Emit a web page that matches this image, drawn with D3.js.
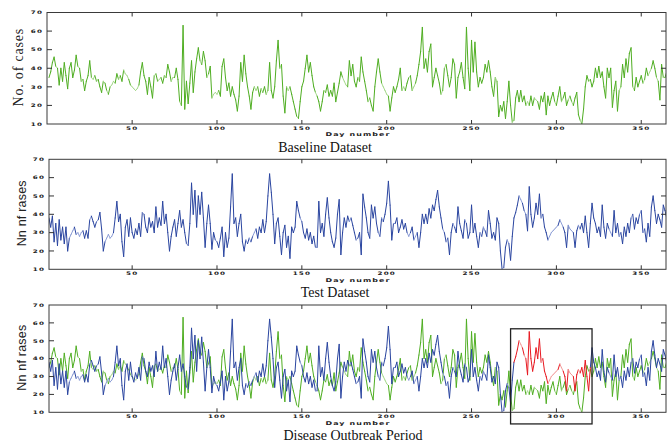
<!DOCTYPE html>
<html><head><meta charset="utf-8">
<script src="https://cdn.jsdelivr.net/npm/d3@7/dist/d3.min.js"></script>
<style>body{margin:0;background:#fff}svg{display:block}</style>
</head><body>
<script>
// ---- data ----
const days = d3.range(1, 366);
const baselineCases = [
35,38,43,46,41,40,31,40,33,43, 36,29,40,43,35,39,47,41,40,33,
34,28,33,36,44,35,34,36,33,34, 30,27,33,32,28,26,30,31,33,32,
37,34,36,33,39,37,36,34,31,30, 29,28,29,31,38,43,36,33,26,35,
30,24,36,37,33,34,35,32,36,35, 42,38,33,35,35,40,34,22,20,63,
18,33,21,32,44,27,38,45,51,44, 42,49,44,35,37,41,24,26,27,26,
28,25,41,45,35,28,32,25,30,26, 23,17,25,43,33,47,37,30,25,18,
27,30,28,30,25,29,27,30,26,28, 43,28,24,30,44,55,40,42,25,16,
30,28,30,26,22,18,14,13,22,30, 33,40,47,38,43,36,30,27,25,22,
17,22,28,27,31,25,28,25,32,22, 27,32,38,35,33,31,30,44,36,42,
33,30,35,33,46,38,33,28,22,24, 20,17,30,38,45,38,32,30,28,26,
25,17,24,30,27,30,34,40,28,30, 28,32,35,36,28,30,32,36,42,49,
62,40,45,38,49,53,30,35,40,36, 32,26,28,40,42,36,30,35,45,42,
24,35,38,43,35,29,62,40,28,55, 38,54,38,30,35,32,35,42,38,44,
38,30,25,35,33,14,20,17,22,13, 22,33,20,11,12,24,28,22,28,22,
25,20,22,20,25,20,24,23,22,18, 25,22,27,15,25,20,24,27,22,20,
25,30,22,24,27,20,23,25,22,20, 24,27,15,12,10,18,30,36,33,34,
30,33,40,35,41,35,38,30,24,40, 35,40,19,28,33,17,28,30,42,35,
45,38,48,51,30,28,35,30,33,36, 32,34,40,36,38,40,44,40,35,33,
23,42,35,35,38];
const testCases = [
38,33,39,25,35,23,37,26,33,24, 33,20,27,29,31,33,29,30,28,30,
31,27,31,27,37,39,36,33,36,37, 41,32,20,25,27,29,27,28,30,38,
47,36,40,25,17,33,37,28,38,30, 27,32,29,35,28,41,40,33,30,38,
33,36,30,44,33,38,34,47,35,40, 30,20,28,33,37,28,35,42,33,37,
30,24,23,35,57,40,53,33,50,40, 52,38,22,35,45,35,21,30,26,25,
22,27,33,17,30,22,27,44,62,35, 38,28,35,40,25,20,26,24,27,25,
28,30,32,27,33,30,37,30,36,50, 62,52,40,24,35,38,28,18,30,34,
22,28,16,33,30,33,47,42,38,36, 30,27,32,26,30,24,28,22,22,47,
30,35,28,40,49,38,30,25,22,27, 40,48,18,30,38,33,39,36,38,34,
30,26,27,30,18,51,44,38,30,27, 45,38,44,35,30,28,38,36,40,46,
58,45,26,35,35,38,30,33,37,32, 35,30,28,30,33,26,28,30,22,30,
40,35,40,35,43,38,45,42,48,53, 44,38,32,30,25,27,18,30,35,33,
30,44,35,31,27,37,35,27,30,45, 30,35,28,22,30,28,33,31,28,42,
35,27,30,26,38,35,20,10,11,22, 26,24,15,28,38,41,45,50,48,46,
42,40,31,55,40,33,38,46,40,51, 38,40,33,30,26,28,30,31,32,33,
34,37,35,33,30,22,34,32,31,30, 22,31,34,32,35,30,39,30,22,35,
46,38,35,30,33,28,45,33,27,35, 32,30,28,42,30,35,28,30,24,33,
28,35,30,38,40,32,38,35,40,42, 30,32,25,35,28,44,50,42,35,40,
37,33,45,42,38];
const outbreakDays = [275, 320];      // test data highlighted in red
const outbreakBoxDays = [273, 321];   // annotation rectangle, x extent
const outbreakBoxCases = [3.5, 56.7]; // annotation rectangle, y extent
const yTicks = [10, 20, 30, 40, 50, 60, 70];
const xTicks = [50, 100, 150, 200, 250, 300, 350];
const panelTitles = ["Baseline Dataset", "Test Dataset", "Disease Outbreak Period"];
const yLabels = ["No. of cases", "Nn  nf rases", "Nn  nf rases"];
const xLabel = "Day number";

// ---- layout ----
const W = 667, H = 442;
const svg = d3.select("body").append("svg").attr("width", W).attr("height", H);
const x = d3.scaleLinear().domain([0, 365]).range([47.3, 666.7]);
const panels = [
  {left: 47, top: 12.5, bottom: 124, titleX: 325, titleY: 152, ylx: 19, ylSerif: true},
  {left: 49, top: 159.3, bottom: 269.3, titleX: 335, titleY: 297, ylx: 22, ylSerif: false},
  {left: 49, top: 305, bottom: 412.3, titleX: 353, titleY: 440, ylx: 22, ylSerif: false}
];
const right = 666;
const GREEN = ["#4fae22", "#a6d98c"], BLUE = ["#2a45a0", "#8c9dd6"], RED = ["#e81820", "#f39a9a"];

function drawSeries(g, y, vals, col, test) {
  for (let i = 0; i < days.length - 1; i++) {
    const d0 = days[i], d1 = days[i + 1];
    if (test && !test(d0, d1)) continue;
    const x0 = x(d0), x1 = x(d1), y0 = y(vals[i]), y1 = y(vals[i + 1]);
    const steep = Math.abs(y1 - y0) / (x1 - x0) > 2.2;
    g.append("line").attr("x1", x0).attr("y1", y0).attr("x2", x1).attr("y2", y1)
      .attr("stroke", steep ? col[0] : col[1]).attr("stroke-width", 1).attr("stroke-linecap", "round");
  }
}

// squat, wide tick-label style seen in the reference
function smallText(g, tx, ty, anchor, size, txt) {
  g.append("text").attr("transform", `translate(${tx},${ty}) scale(1.1,0.72)`)
    .attr("text-anchor", anchor).attr("font-family", "DejaVu Sans").attr("font-weight", "bold")
    .attr("font-size", size).attr("letter-spacing", 1).attr("fill", "#222").text(txt);
}

panels.forEach((p, idx) => {
  const y = d3.scaleLinear().domain([10, 70]).range([p.bottom, p.top]);
  const g = svg.append("g");
  const clipId = "clip" + idx;
  svg.append("clipPath").attr("id", clipId).append("rect")
    .attr("x", p.left).attr("y", p.top).attr("width", right - p.left).attr("height", p.bottom - p.top);
  const lg = g.append("g").attr("clip-path", `url(#${clipId})`);

  if (idx === 0) drawSeries(lg, y, baselineCases, GREEN);
  if (idx === 1) drawSeries(lg, y, testCases, BLUE);
  if (idx === 2) {
    drawSeries(lg, y, baselineCases, GREEN);
    drawSeries(lg, y, testCases, BLUE, (a, b) => b <= outbreakDays[0] || a >= outbreakDays[1]);
    drawSeries(lg, y, testCases, RED, (a, b) => a >= outbreakDays[0] && b <= outbreakDays[1]);
  }

  // frame
  g.append("rect").attr("x", p.left).attr("y", p.top).attr("width", right - p.left)
    .attr("height", p.bottom - p.top).attr("fill", "none").attr("stroke", "#3a3a3a").attr("stroke-width", 1);

  // inner ticks + labels
  xTicks.forEach(t => {
    g.append("line").attr("x1", x(t)).attr("x2", x(t)).attr("y1", p.bottom).attr("y2", p.bottom - 4).attr("stroke", "#333");
    g.append("line").attr("x1", x(t)).attr("x2", x(t)).attr("y1", p.top).attr("y2", p.top + 4).attr("stroke", "#333");
    smallText(g, x(t), p.bottom + 6, "middle", 6.5, t);
  });
  yTicks.forEach(t => {
    if (t > 10 && t < 70) {
      g.append("line").attr("x1", p.left).attr("x2", p.left + 5).attr("y1", y(t)).attr("y2", y(t)).attr("stroke", "#333");
      g.append("line").attr("x1", right).attr("x2", right - 5).attr("y1", y(t)).attr("y2", y(t)).attr("stroke", "#333");
    }
    smallText(g, p.left - 4, y(t) + 1.8, "end", 6.5, t);
  });

  // x label
  smallText(g, 358, p.bottom + 12.2, "middle", 7.2, xLabel);

  // y label
  const cy = (p.top + p.bottom) / 2 - 1;
  g.append("text").attr("transform", `translate(${p.ylx + 4},${cy}) rotate(-90)`).attr("text-anchor", "middle")
    .attr("font-family", p.ylSerif ? "Liberation Serif" : "Liberation Sans")
    .attr("font-size", p.ylSerif ? 14 : 12.5).attr("letter-spacing", p.ylSerif ? 0.8 : 0.2)
    .attr("fill", "#222").text(yLabels[idx]);

  // title
  g.append("text").attr("x", p.titleX).attr("y", p.titleY).attr("text-anchor", "middle")
    .attr("font-family", "Liberation Serif").attr("font-size", 14).attr("fill", "#111").text(panelTitles[idx]);

  if (idx === 2) {
    g.append("rect").attr("x", x(outbreakBoxDays[0])).attr("y", y(outbreakBoxCases[1]))
      .attr("width", x(outbreakBoxDays[1]) - x(outbreakBoxDays[0]))
      .attr("height", y(outbreakBoxCases[0]) - y(outbreakBoxCases[1]))
      .attr("fill", "none").attr("stroke", "#222").attr("stroke-width", 1.3);
  }
});
</script>
</body></html>
